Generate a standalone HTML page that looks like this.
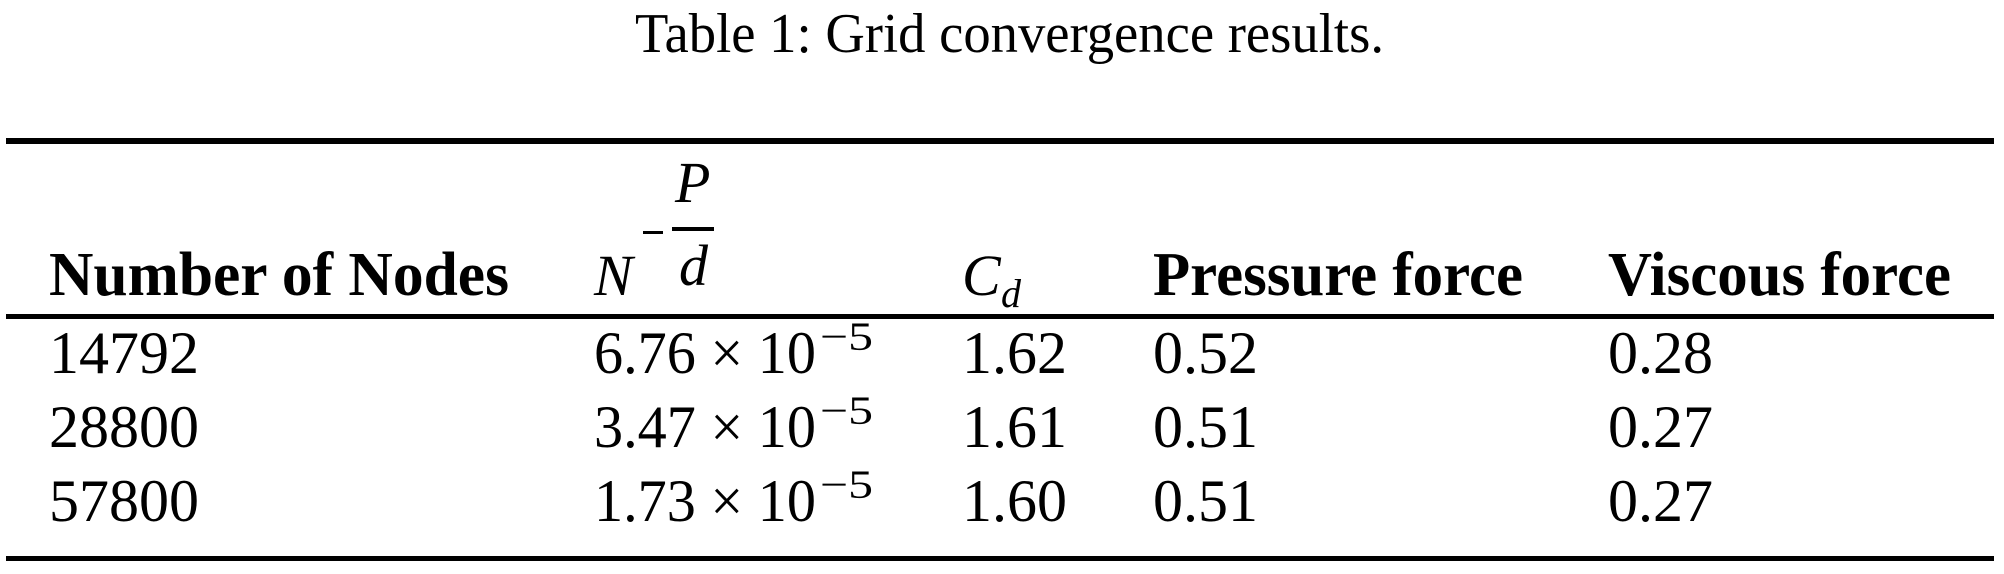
<!DOCTYPE html>
<html><head><meta charset="utf-8"><style>html,body{margin:0;padding:0;background:#fff}svg{display:block}</style></head>
<body>
<svg width="2004" height="574" xmlns="http://www.w3.org/2000/svg" font-family="'Liberation Serif', serif" fill="#000">
<text x="635" y="52" font-size="56" textLength="749" lengthAdjust="spacingAndGlyphs">Table 1: Grid convergence results.</text>
<rect x="6" y="138" width="1988" height="6"/>
<text x="49" y="295" font-size="62" font-weight="bold" textLength="460" lengthAdjust="spacingAndGlyphs">Number of Nodes</text>
<text x="594" y="295" font-size="58" font-style="italic">N</text>
<rect x="643" y="231" width="20" height="3"/>
<text x="675" y="202" font-size="58" font-style="italic">P</text>
<rect x="672" y="227" width="42" height="4"/>
<text x="679" y="285" font-size="58" font-style="italic">d</text>
<text x="962" y="295" font-size="58" font-style="italic">C</text>
<text x="1001" y="307" font-size="40" font-style="italic">d</text>
<text x="1153" y="295" font-size="62" font-weight="bold" textLength="370" lengthAdjust="spacingAndGlyphs">Pressure force</text>
<text x="1608" y="295" font-size="62" font-weight="bold" textLength="343" lengthAdjust="spacingAndGlyphs">Viscous force</text>
<rect x="6" y="314" width="1988" height="5"/>
<g font-size="60">
<text x="49" y="373">14792</text>
<text x="594" y="373" textLength="222" lengthAdjust="spacingAndGlyphs">6.76 × 10</text>
<text x="820" y="350" font-size="40" textLength="53" lengthAdjust="spacingAndGlyphs">−5</text>
<text x="962" y="373">1.62</text><text x="1153" y="373">0.52</text><text x="1608" y="373">0.28</text>
<text x="49" y="447">28800</text>
<text x="594" y="447" textLength="222" lengthAdjust="spacingAndGlyphs">3.47 × 10</text>
<text x="820" y="424" font-size="40" textLength="53" lengthAdjust="spacingAndGlyphs">−5</text>
<text x="962" y="447">1.61</text><text x="1153" y="447">0.51</text><text x="1608" y="447">0.27</text>
<text x="49" y="521">57800</text>
<text x="594" y="521" textLength="222" lengthAdjust="spacingAndGlyphs">1.73 × 10</text>
<text x="820" y="498" font-size="40" textLength="53" lengthAdjust="spacingAndGlyphs">−5</text>
<text x="962" y="521">1.60</text><text x="1153" y="521">0.51</text><text x="1608" y="521">0.27</text>
</g>
<rect x="6" y="556" width="1988" height="5"/>
</svg>
</body></html>
